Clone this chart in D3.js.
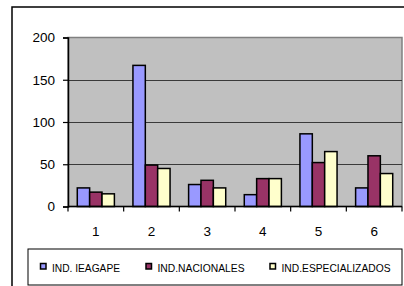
<!DOCTYPE html>
<html>
<head>
<meta charset="utf-8">
<script src="https://cdn.jsdelivr.net/npm/d3@7"></script>
<style>
  html, body { margin: 0; padding: 0; background: #fff; }
  svg { display: block; font-family: 'Liberation Sans', Arial, sans-serif; }
</style>
</head>
<body>
<svg id="chart" width="404" height="286"></svg>
<script>
// ── Data ─────────────────────────────────────────────
const categories = ['1', '2', '3', '4', '5', '6'];
const seriesNames = ['IND. IEAGAPE', 'IND.NACIONALES', 'IND.ESPECIALIZADOS'];
const ieagape      = [22, 167, 26, 14, 86, 22];
const nacionales   = [17, 49, 31, 33, 52, 60];
const especializad = [15, 45, 22, 33, 65, 39];
const yTicks = [0, 50, 100, 150, 200];

const seriesValues = [ieagape, nacionales, especializad];
const colors = ['#9999ff', '#993366', '#ffffcc'];

// ── Layout ───────────────────────────────────────────
const svg = d3.select('#chart');
const plot = { left: 68, right: 402, top: 37.5, bottom: 206.5 };
const tickFont = "'Liberation Sans', Arial, sans-serif";

// outer chart frame (runs off the right and bottom of the window)
svg.append('rect')
  .attr('x', 12).attr('y', 7).attr('width', 420).attr('height', 300)
  .attr('fill', '#fff').attr('stroke', '#000').attr('stroke-width', 1.5);

const x0 = d3.scaleBand().domain(categories).range([plot.left, plot.right]);
const x1 = d3.scaleBand().domain(d3.range(3))
  .range([0, x0.bandwidth()]).paddingInner(0).paddingOuter(0.75);
const y = d3.scaleLinear().domain([0, 200]).range([plot.bottom, plot.top]);

// plot area
svg.append('rect')
  .attr('x', plot.left).attr('y', plot.top)
  .attr('width', plot.right - plot.left).attr('height', plot.bottom - plot.top)
  .attr('fill', '#c0c0c0').attr('stroke', '#808080').attr('stroke-width', 1.5);

// gridlines
svg.append('g').selectAll('line').data(yTicks.filter(t => t > 0 && t < 200)).join('line')
  .attr('x1', plot.left).attr('x2', plot.right)
  .attr('y1', d => Math.round(y(d)) + 0.5).attr('y2', d => Math.round(y(d)) + 0.5)
  .attr('stroke', '#3a3a3a').attr('stroke-width', 1);

// bars
const rows = categories.map((c, i) => ({ c, vals: seriesValues.map(s => s[i]) }));
const groups = svg.append('g').selectAll('g').data(rows).join('g')
  .attr('transform', d => `translate(${x0(d.c)},0)`);
groups.selectAll('rect').data(d => d.vals.map((v, k) => ({ v, k }))).join('rect')
  .attr('x', d => x1(d.k))
  .attr('y', d => y(d.v))
  .attr('width', x1.bandwidth())
  .attr('height', d => y(0) - y(d.v))
  .attr('fill', d => colors[d.k])
  .attr('stroke', '#000').attr('stroke-width', 1.5);

// y axis
const yAxis = svg.append('g').attr('transform', `translate(${plot.left},0)`)
  .call(d3.axisLeft(y).tickValues(yTicks).tickSize(5).tickPadding(8));
yAxis.select('.domain').attr('stroke', '#000').attr('stroke-width', 1.5);
yAxis.selectAll('.tick line').attr('stroke', '#000').attr('stroke-width', 1.2);
yAxis.selectAll('.tick text')
  .attr('font-size', '13.5px').attr('fill', '#000').attr('font-family', tickFont);

// x axis: labels centred, tick marks between categories
const xAxis = svg.append('g').attr('transform', `translate(0,${plot.bottom})`)
  .call(d3.axisBottom(x0).tickSize(0).tickPadding(20));
xAxis.select('.domain').remove();
xAxis.selectAll('.tick text')
  .attr('font-size', '13.5px').attr('fill', '#000').attr('font-family', tickFont);
svg.append('line')
  .attr('x1', plot.left).attr('x2', plot.right)
  .attr('y1', plot.bottom).attr('y2', plot.bottom)
  .attr('stroke', '#000').attr('stroke-width', 1.5);
const bounds = categories.map(c => x0(c)).concat([plot.right]);
svg.append('g').selectAll('line').data(bounds).join('line')
  .attr('x1', d => d).attr('x2', d => d)
  .attr('y1', plot.bottom).attr('y2', plot.bottom + 5)
  .attr('stroke', '#000').attr('stroke-width', 1.2);

// ── Legend ───────────────────────────────────────────
svg.append('rect')
  .attr('x', 28).attr('y', 249).attr('width', 374).attr('height', 36)
  .attr('fill', '#fff').attr('stroke', '#000').attr('stroke-width', 1);

const legendX = [40.5, 146, 270];
const legendW = [68, 87, 109];
const leg = svg.append('g').selectAll('g').data(seriesNames).join('g')
  .attr('transform', (d, i) => `translate(${legendX[i]},263.5)`);
leg.append('rect')
  .attr('width', 5.5).attr('height', 5.5)
  .attr('fill', (d, i) => colors[i])
  .attr('stroke', '#000').attr('stroke-width', 1.5);
leg.append('text')
  .attr('x', 11.5).attr('y', 8)
  .attr('font-size', '10.5px').attr('fill', '#000')
  .attr('textLength', (d, i) => legendW[i])
  .attr('lengthAdjust', 'spacingAndGlyphs')
  .text(d => d);
</script>
</body>
</html>
